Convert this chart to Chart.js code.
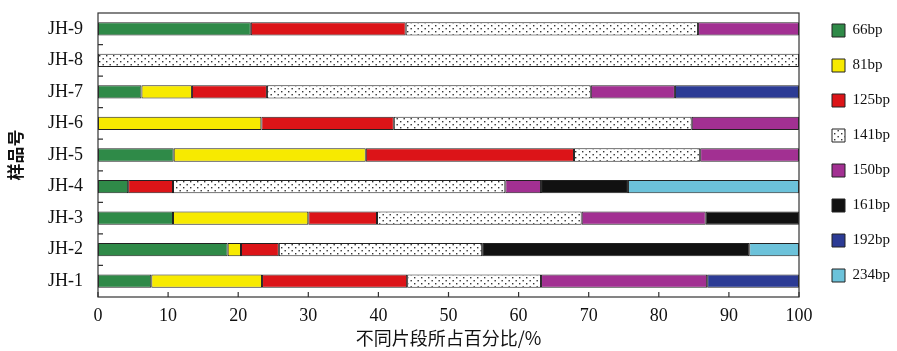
<!DOCTYPE html>
<html>
<head>
<meta charset="utf-8">
<script src="https://cdn.jsdelivr.net/npm/chart.js@4"></script>
<style>
  html, body { margin: 0; padding: 0; background: #fff; }
  #wrap { width: 897px; height: 351px; }
</style>
</head>
<body>
<div id="wrap"><canvas id="chart" width="897" height="351"></canvas></div>
<script>
// samples, top to bottom
const samples = ["JH-9", "JH-8", "JH-7", "JH-6", "JH-5", "JH-4", "JH-3", "JH-2", "JH-1"];
const fragments = ["66bp", "81bp", "125bp", "141bp", "150bp", "161bp", "192bp", "234bp"];

// percentage of each fragment per sample (null = absent)
const bp66  = [21.8, null, 6.2, null, 10.8, 4.3, 10.7, 18.5, 7.6];
const bp81  = [null, null, 7.2, 23.3, 27.4, null, 19.3, 1.9, 15.8];
const bp125 = [22.1, null, 10.7, 18.9, 29.7, 6.4, 9.8, 5.4, 20.7];
const bp141 = [41.7, 100, 46.2, 42.5, 18.0, 47.4, 29.2, 29.0, 19.1];
const bp150 = [14.4, null, 12.0, 15.3, 14.1, 5.1, 17.7, null, 23.7];
const bp161 = [null, null, null, null, null, 12.4, 13.3, 38.1, null];
const bp192 = [null, null, 17.7, null, null, null, null, null, 13.1];
const bp234 = [null, null, null, null, null, 24.4, null, 7.1, null];

const xTicks = [0, 10, 20, 30, 40, 50, 60, 70, 80, 90, 100];

const ctx = document.getElementById("chart").getContext("2d");

// dotted fill for 141bp
const tile = document.createElement("canvas");
tile.width = 7; tile.height = 6;
const tc = tile.getContext("2d");
tc.fillStyle = "#fff";
tc.fillRect(0, 0, 7, 6);
tc.fillStyle = "#333";
tc.fillRect(1, 1, 1.4, 1.4);
tc.fillRect(4.5, 4, 1.4, 1.4);
const dots = ctx.createPattern(tile, "repeat");

const series = [bp66, bp81, bp125, bp141, bp150, bp161, bp192, bp234];
const colors = ["#2f8a48", "#f7ea00", "#dc1418", dots, "#a23092", "#111111", "#2c3b95", "#6cc2da"];

const serif = "'Liberation Serif', 'Times New Roman', serif";
const cjk = "'Noto Sans CJK SC', sans-serif";

// inner tick marks and plot frame
const frame = {
    id: "frame",
    afterDraw(chart) {
        const { ctx, chartArea: a, scales } = chart;
        ctx.save();
        ctx.strokeStyle = "#333";
        ctx.lineWidth = 1.2;
        ctx.strokeRect(a.left, a.top, a.right - a.left, a.bottom - a.top);
        ctx.beginPath();
        for (let i = 1; i < samples.length; i++) {
            const y = (scales.y.getPixelForValue(i - 1) + scales.y.getPixelForValue(i)) / 2;
            ctx.moveTo(a.left, y);
            ctx.lineTo(a.left + 5, y);
        }
        xTicks.forEach(v => {
            const x = scales.x.getPixelForValue(v);
            ctx.moveTo(x, a.bottom);
            ctx.lineTo(x, a.bottom - 5);
        });
        ctx.stroke();
        ctx.restore();
    }
};

new Chart(ctx, {
    type: "bar",
    data: {
        labels: samples,
        datasets: fragments.map((name, i) => ({
            label: name,
            data: series[i],
            backgroundColor: colors[i],
            borderColor: "#222",
            borderWidth: 1,
            borderSkipped: false,
            barPercentage: 0.42,
            categoryPercentage: 1
        }))
    },
    options: {
        indexAxis: "y",
        responsive: false,
        animation: false,
        layout: { padding: { top: 3, right: -3, bottom: 0, left: 0 } },
        plugins: {
            // empty title only pushes the plot below the legend's first row
            title: { display: true, text: "", font: { size: 10, lineHeight: 1 }, padding: 0 },
            tooltip: { enabled: false },
            legend: {
                position: "right",
                align: "start",
                labels: {
                    boxWidth: 13,
                    boxHeight: 13,
                    padding: 20,
                    color: "#111",
                    font: { family: serif, size: 15 }
                }
            }
        },
        scales: {
            x: {
                stacked: true,
                min: 0,
                max: 100,
                afterBuildTicks: s => { s.ticks = xTicks.map(v => ({ value: v })); },
                afterFit: s => { s.height = 54; },
                grid: { display: false },
                border: { display: false },
                ticks: { color: "#111", padding: 0, font: { family: serif, size: 18 } },
                title: {
                    display: true,
                    text: "不同片段所占百分比/%",
                    color: "#111",
                    padding: { top: 2, bottom: 2 },
                    font: { family: cjk, size: 18 }
                }
            },
            y: {
                stacked: true,
                afterFit: s => { s.width = 98; s.paddingTop = 0; s.paddingBottom = 0; },
                grid: { display: false, drawTicks: false },
                border: { display: false },
                ticks: { color: "#111", padding: 15, font: { family: serif, size: 18 } },
                title: {
                    display: true,
                    text: "样品号",
                    color: "#111",
                    padding: { top: 5, bottom: 5 },
                    font: { family: cjk, size: 17, weight: "bold" }
                }
            },
            gap: {
                type: "linear",
                position: "right",
                afterFit: s => { s.width = 13; s.paddingTop = 0; s.paddingBottom = 0; },
                grid: { display: false },
                border: { display: false },
                ticks: { display: false }
            }
        }
    },
    plugins: [frame]
});
</script>
</body>
</html>
